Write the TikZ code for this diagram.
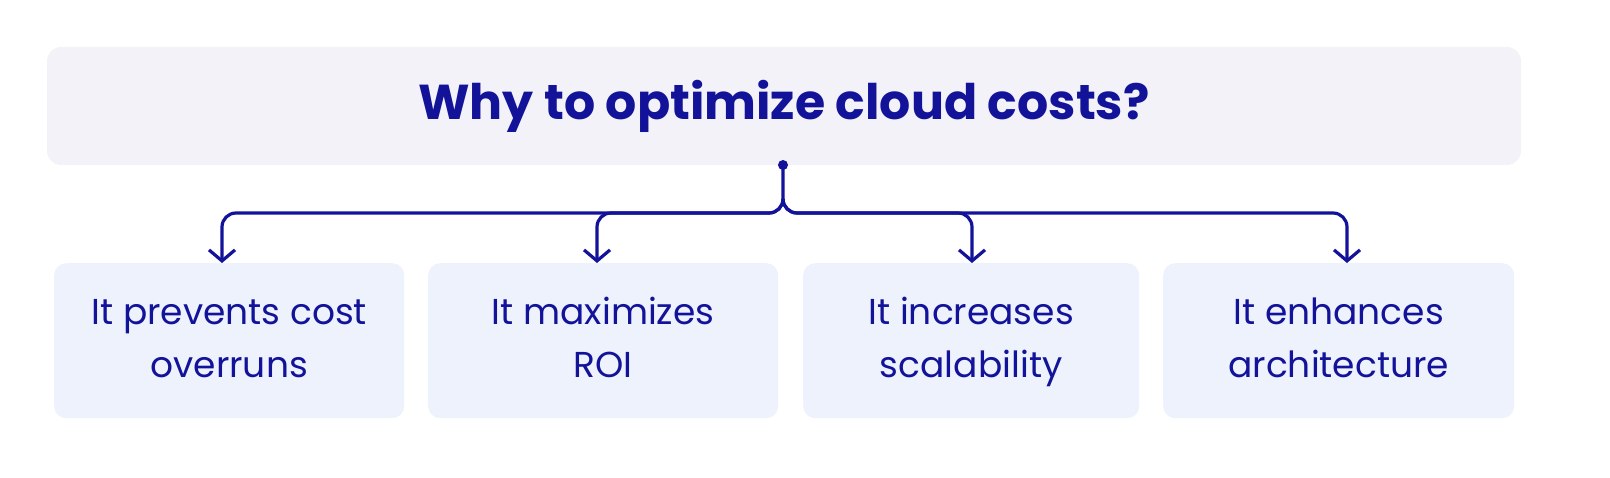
\documentclass[tikz,border=0pt]{standalone}
\usepackage{fontspec}
\setmainfont{Poppins}
\usetikzlibrary{arrows.meta}
\definecolor{navy}{HTML}{13139A}
\definecolor{titlebg}{HTML}{F3F2F8}
\definecolor{boxbg}{HTML}{EEF2FD}
\newcommand{\ls}{\rule[-0.3\baselineskip]{0pt}{\baselineskip}}
\tikzset{
  leaf/.style={fill=boxbg, rounded corners=12pt, minimum height=155pt, text=navy, align=center, font=\fontsize{36}{53}\selectfont, anchor=north west, inner sep=0pt},
  conn/.style={draw=navy, line width=3.2pt, rounded corners=14pt, -{Straight Barb[length=11pt,width=26pt,line width=3.2pt]}}
}
\begin{document}
\begin{tikzpicture}[x=1pt,y=-1pt]
\useasboundingbox (0,0) rectangle (1610,478);
\node[fill=titlebg, rounded corners=14pt, minimum width=1474pt, minimum height=118pt, text=navy, font=\fontsize{49}{52}\selectfont\bfseries] (title) at (784,106) {Why to optimize cloud costs?};
\node[leaf, minimum width=350pt] (b1) at (54,263) {\ls It prevents cost\\\ls overruns};
\node[leaf, minimum width=350pt] (b2) at (428,263) {\ls It maximizes\\\ls ROI};
\node[leaf, minimum width=336pt] (b3) at (803,263) {\ls It increases\\\ls scalability};
\node[leaf, minimum width=351pt] (b4) at (1163,263) {\ls It enhances\\\ls architecture};
\coordinate (dot) at (783,165);
\fill[navy] (dot) circle (5pt);
\draw[conn] (dot) -- (783,213) -- (222,213) -- (222,263);
\draw[conn] (783,200) -- (783,213) -- (597,213) -- (597,263);
\draw[conn] (783,200) -- (783,213) -- (972,213) -- (972,263);
\draw[conn] (783,200) -- (783,213) -- (1347,213) -- (1347,263);
\end{tikzpicture}
\end{document}
